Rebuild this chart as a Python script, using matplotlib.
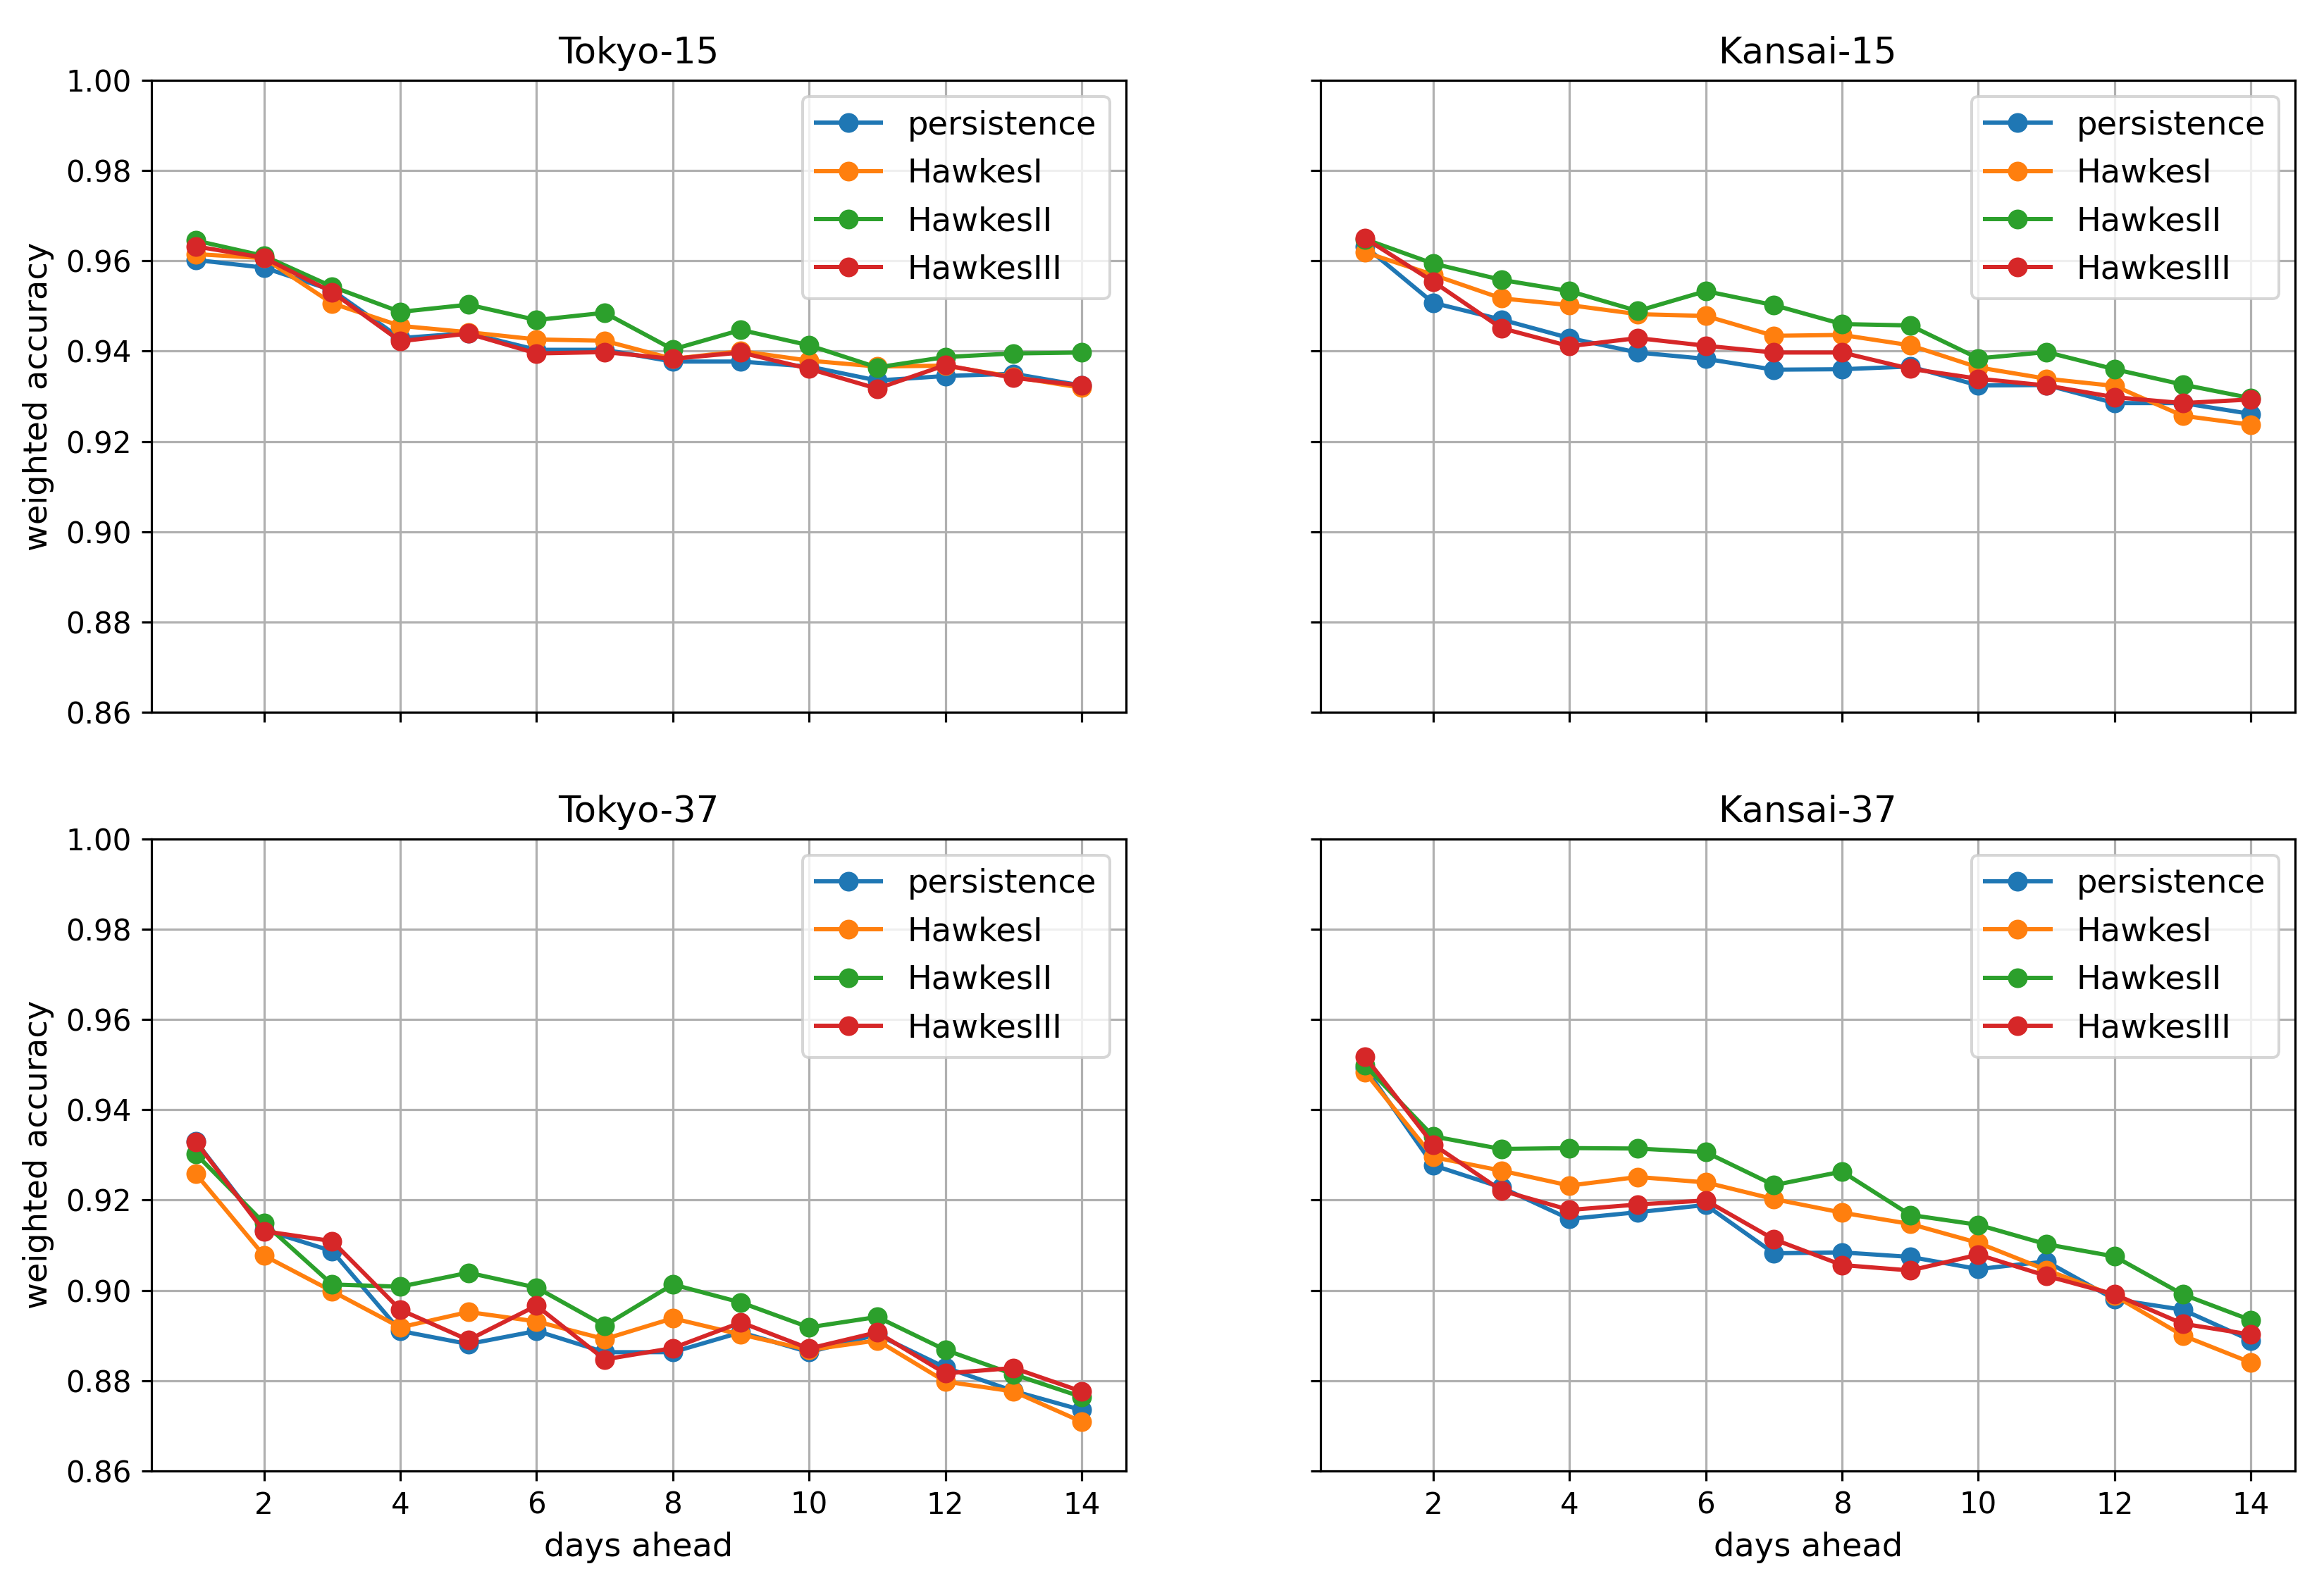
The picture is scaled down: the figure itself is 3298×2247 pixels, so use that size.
import numpy as np
import matplotlib
matplotlib.use("Agg")
import matplotlib.pyplot as plt

days = np.arange(1, 15)
labels = ["persistence", "HawkesI", "HawkesII", "HawkesIII"]

# Tokyo-15
tokyo15_persistence = [0.9602, 0.9585, 0.9535, 0.9429, 0.9440, 0.9403, 0.9403,
                       0.9377, 0.9377, 0.9366, 0.9335, 0.9345, 0.9350, 0.9324]
tokyo15_hawkes1 = [0.9615, 0.9606, 0.9506, 0.9456, 0.9442, 0.9426, 0.9423,
                   0.9383, 0.9400, 0.9379, 0.9366, 0.9368, 0.9343, 0.9319]
tokyo15_hawkes2 = [0.9645, 0.9611, 0.9543, 0.9487, 0.9503, 0.9469, 0.9485,
                   0.9404, 0.9447, 0.9413, 0.9364, 0.9387, 0.9395, 0.9397]
tokyo15_hawkes3 = [0.9632, 0.9607, 0.9531, 0.9422, 0.9439, 0.9395, 0.9398,
                   0.9383, 0.9397, 0.9361, 0.9317, 0.9369, 0.9341, 0.9324]

# Kansai-15
kansai15_persistence = [0.9632, 0.9507, 0.9470, 0.9429, 0.9397, 0.9383, 0.9359,
                        0.9360, 0.9366, 0.9324, 0.9325, 0.9285, 0.9285, 0.9261]
kansai15_hawkes1 = [0.9619, 0.9569, 0.9517, 0.9502, 0.9482, 0.9478, 0.9434,
                    0.9436, 0.9413, 0.9364, 0.9339, 0.9323, 0.9257, 0.9237]
kansai15_hawkes2 = [0.9648, 0.9594, 0.9558, 0.9533, 0.9489, 0.9533, 0.9502,
                    0.9460, 0.9457, 0.9384, 0.9398, 0.9360, 0.9326, 0.9296]
kansai15_hawkes3 = [0.9650, 0.9554, 0.9451, 0.9411, 0.9429, 0.9412, 0.9397,
                    0.9397, 0.9361, 0.9339, 0.9324, 0.9298, 0.9285, 0.9293]

# Tokyo-37
tokyo37_persistence = [0.9330, 0.9134, 0.9087, 0.8910, 0.8881, 0.8910, 0.8863,
                       0.8863, 0.8907, 0.8863, 0.8902, 0.8829, 0.8777, 0.8735]
tokyo37_hawkes1 = [0.9258, 0.9077, 0.8998, 0.8918, 0.8952, 0.8931, 0.8892,
                   0.8938, 0.8902, 0.8868, 0.8889, 0.8798, 0.8776, 0.8709]
tokyo37_hawkes2 = [0.9302, 0.9149, 0.9013, 0.9008, 0.9039, 0.9006, 0.8922,
                   0.9013, 0.8973, 0.8918, 0.8941, 0.8868, 0.8814, 0.8764]
tokyo37_hawkes3 = [0.9329, 0.9131, 0.9109, 0.8957, 0.8890, 0.8966, 0.8847,
                   0.8872, 0.8929, 0.8871, 0.8907, 0.8816, 0.8828, 0.8776]

# Kansai-37
kansai37_persistence = [0.9493, 0.9277, 0.9228, 0.9158, 0.9173, 0.9189, 0.9082,
                        0.9084, 0.9074, 0.9047, 0.9064, 0.8980, 0.8957, 0.8889]
kansai37_hawkes1 = [0.9483, 0.9295, 0.9265, 0.9232, 0.9251, 0.9239, 0.9202,
                    0.9172, 0.9147, 0.9105, 0.9045, 0.8988, 0.8900, 0.8840]
kansai37_hawkes2 = [0.9498, 0.9341, 0.9313, 0.9315, 0.9314, 0.9306, 0.9233,
                    0.9263, 0.9167, 0.9145, 0.9102, 0.9075, 0.8991, 0.8934]
kansai37_hawkes3 = [0.9517, 0.9323, 0.9221, 0.9178, 0.9190, 0.9199, 0.9113,
                    0.9056, 0.9044, 0.9079, 0.9032, 0.8991, 0.8926, 0.8902]

panels = [
    ("Tokyo-15", [tokyo15_persistence, tokyo15_hawkes1, tokyo15_hawkes2, tokyo15_hawkes3]),
    ("Kansai-15", [kansai15_persistence, kansai15_hawkes1, kansai15_hawkes2, kansai15_hawkes3]),
    ("Tokyo-37", [tokyo37_persistence, tokyo37_hawkes1, tokyo37_hawkes2, tokyo37_hawkes3]),
    ("Kansai-37", [kansai37_persistence, kansai37_hawkes1, kansai37_hawkes2, kansai37_hawkes3]),
]

plt.rcParams["xtick.labelsize"] = 10.5
plt.rcParams["ytick.labelsize"] = 10.5

fig, axes = plt.subplots(2, 2, sharex=True, sharey=True,
                         figsize=(3298 / 288, 2247 / 288), dpi=288)
fig.subplots_adjust(left=0.0652, right=0.9876, top=0.9493, bottom=0.0708,
                    wspace=0.2, hspace=0.2)

for ax, (title, series) in zip(axes.flat, panels):
    for lab, vals in zip(labels, series):
        ax.plot(days, vals, marker="o", label=lab)
    ax.set_title(title, fontsize=12.8)
    ax.set_ylim(0.86, 1.00)
    ax.grid(True)
    ax.legend(loc="upper right", fontsize=11.6)

for ax in axes[:, 0]:
    ax.set_ylabel("weighted accuracy", fontsize=11.6)
for ax in axes[1, :]:
    ax.set_xlabel("days ahead", fontsize=11.6)

fig.savefig("out.png", dpi=288)
